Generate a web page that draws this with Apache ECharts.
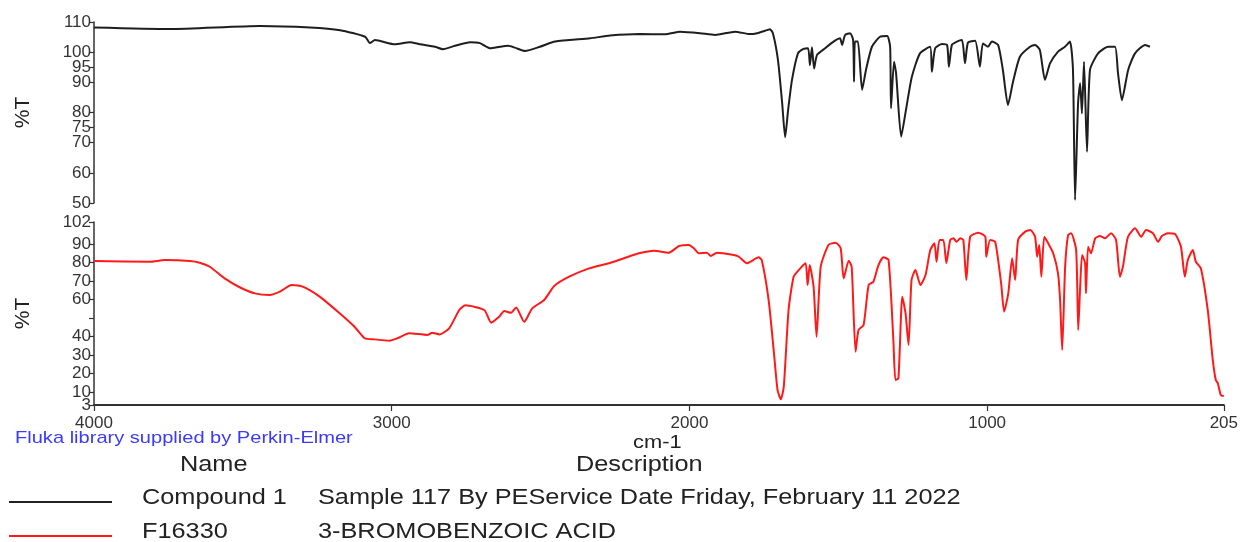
<!DOCTYPE html>
<html>
<head>
<meta charset="utf-8">
<title>IR spectrum compare</title>
<script src="https://cdn.jsdelivr.net/npm/echarts@6.0.0/dist/echarts.min.js"></script>
<style>
  html, body { margin: 0; padding: 0; background: #fff; }
  #chart { width: 1241px; height: 542px; }
</style>
</head>
<body>
<div id="chart"></div>
<script>
// ticks
var xTicks = [4000, 3000, 2000, 1000, 205];
var yTicksTop = [50, 55, 60, 70, 75, 80, 90, 95, 100, 110];
var yTicksBottom = [10, 20, 30, 40, 60, 70, 80, 90, 102];
var yMinorBottom = [3, 10, 20, 30, 40, 50, 60, 70, 80, 90, 102];
var yLowBottom = [3];

// Compound 1 (sample) - wavenumber / %T
var wnSample = [4000,3745,3443,3276,3175,3091,3075,3058,2991,2941,2907,2857,2830,2790,2739,2706,2672,2639,2612,2589,2555,2505,2454,2337,2270,2170,2086,2035,1968,1918,1851,1801,1777,1744,1734,1724,1707,1693,1683,1673,1660,1640,1623,1606,1600,1593,1586,1576,1549,1516,1499,1492,1482,1465,1455,1452,1449,1439,1425,1412,1392,1365,1341,1331,1328,1318,1311,1294,1278,1258,1231,1197,1191,1180,1157,1140,1134,1124,1107,1090,1080,1070,1046,1030,1020,1003,990,969,953,936,919,896,862,845,829,812,795,768,745,728,718,711,701,694,688,681,671,661,634,600,577,567,554,533,510,476,460];
var tSample = [108.2,107.7,108.7,108.2,107.3,105.1,103,104,102.6,103.3,102.6,101.8,101,102.1,103.3,103,101.3,101.8,102.1,101.5,100.4,101.8,103.5,104.6,105.5,106,105.9,106.8,106.3,105.7,106.8,106,106.3,107.3,107.6,106.3,97.4,83.2,71.8,80.8,90.8,99.6,101,101.3,95.7,101.6,94.6,99.1,101.3,103.8,104.6,102.4,105.7,106.3,104,90.2,103.5,103.5,87.5,94.1,101.8,105.1,105.4,101.8,81.4,96.8,93,72,80.8,91.9,99.6,101.8,93.5,101.3,102.7,102.4,95.2,102.4,103.5,104,96.3,103.2,103.8,95.2,102.9,101.8,103.5,102.4,94.1,82.5,90.2,98.5,101.8,102.4,100.7,90.8,96.3,100.2,101.8,103.5,94.1,51,83,89.7,79.7,96.8,67,94.1,99.6,101.8,101.8,93,84.1,94.1,99.6,102.4,101.8];

// F16330 3-bromobenzoic acid (library)
var wnLib = [4000,3812,3762,3678,3645,3611,3561,3511,3460,3410,3376,3336,3299,3242,3175,3125,3091,3058,3008,2981,2941,2880,2864,2840,2807,2773,2753,2689,2666,2639,2622,2599,2582,2555,2528,2488,2454,2404,2337,2270,2220,2170,2119,2069,2035,2002,1985,1968,1942,1928,1908,1851,1834,1807,1767,1757,1734,1717,1704,1693,1683,1667,1650,1633,1610,1603,1596,1583,1573,1559,1533,1509,1492,1482,1465,1455,1442,1432,1415,1398,1382,1365,1348,1331,1315,1308,1298,1285,1274,1264,1254,1241,1224,1207,1191,1177,1170,1160,1147,1137,1124,1113,1103,1090,1080,1070,1057,1030,1006,1003,990,973,953,943,929,916,906,896,872,855,839,832,825,818,808,795,778,762,755,748,738,728,718,701,694,688,681,671,668,661,651,637,621,604,584,567,554,544,527,503,483,466,443,426,413,393,369,349,336,326,309,299,282,259,242,232,225,215,205];
var tLib = [80.9,80.5,81.4,80.9,80,77.8,71.5,66.7,63.4,62.5,64.3,67.9,67,61.6,52.6,45.3,39.1,38.5,37.8,39.1,41.8,40.9,42.1,41.2,44.5,54.4,56.9,54.4,47.5,50.8,53.8,52.9,55.8,48,55.3,59.8,67.4,72.4,76.9,79.7,82.4,85.1,86.5,85.4,89,89.6,87.8,85.1,85.4,83.6,85.4,84.1,83.2,79.7,82.9,81.4,59.8,32.7,11.1,6.1,12.9,54.4,72.4,76,79.7,67.9,78.7,67,39.9,77.8,89.6,90.8,87.8,71.5,81.1,77.8,31.8,43.6,46.3,67.9,69.7,78.7,82.9,81.4,38.1,16.5,17.4,61.6,52.6,35.4,70.6,76,67.9,73.3,86.8,90.5,80.5,92.3,92.3,79.7,92.3,93.2,91.3,93.2,92.3,70.6,94,96.2,94,83.2,92.3,91.3,68.8,53.5,63.4,82.4,70.6,92.3,96.8,97.7,94,83.2,89.6,72.4,94,90.5,85.1,74.2,59.8,32.7,77.8,95,95.9,86.8,43.6,65.2,84.1,79.7,63.4,88.6,85.1,93.2,94.4,93.2,95.9,92.3,72.4,77.8,94,98.6,94,97.7,95.9,91.3,94.4,95.9,95.5,88.6,72.4,81.4,86.8,80.5,76.9,54.4,27.3,16.5,14.7,8.4,7.8];

function pairs(xs, ys){
  var out = [];
  for (var i = 0; i < xs.length; i++) out.push([xs[i], ys[i]]);
  return out;
}

var font = "'Liberation Sans', Arial, sans-serif";
var axisColor = '#333';
var plain = function(v){ return String(v); };

var chart = echarts.init(document.getElementById('chart'), null, {renderer: 'canvas'});

function yAxisFor(idx, min, max, ticks, tickVals){
  return {
    type: 'value', gridIndex: idx, min: min, max: max, position: 'left',
    name: '%T', nameLocation: 'middle', nameGap: 60,
    nameTextStyle: {fontFamily: font, fontSize: 21, color: '#222'},
    splitLine: {show: false},
    axisLine: {show: true, lineStyle: {color: axisColor, width: 1.5}},
    axisTick: {show: true, length: 5, customValues: tickVals, lineStyle: {color: axisColor, width: 1.2}},
    axisLabel: {
      customValues: ticks, formatter: plain, showMinLabel: true, showMaxLabel: true, hideOverlap: false,
      fontFamily: font, fontSize: 17, color: '#333', margin: 3
    }
  };
}

// text blocks under the plot, a bit wide like the print
function label(x, y, txt, size, color, sx){
  return {
    type: 'text', x: x, y: y, scaleX: sx || 1.15,
    style: {text: txt, font: size + 'px ' + font, fill: color || '#222', verticalAlign: 'middle'}
  };
}

var option = {
  animation: false,
  backgroundColor: '#fff',
  grid: [
    {left: 94, right: 15, top: 22, height: 181},
    {left: 94, right: 15, top: 222, height: 183}
  ],
  xAxis: [
    {type: 'value', gridIndex: 0, min: 205, max: 4000, inverse: true, show: false},
    {
      type: 'value', gridIndex: 1, min: 205, max: 4000, inverse: true,
      splitLine: {show: false},
      axisLine: {show: true, lineStyle: {color: axisColor, width: 2}},
      axisTick: {show: true, length: 6, customValues: xTicks, lineStyle: {color: axisColor, width: 1.2}},
      axisLabel: {
        customValues: xTicks, formatter: plain, showMinLabel: true, showMaxLabel: true, hideOverlap: false,
        fontFamily: font, fontSize: 17, color: '#333', margin: 10
      }
    }
  ],
  yAxis: [
    yAxisFor(0, 50, 110, yTicksTop, yTicksTop),
    yAxisFor(1, 3, 102, yTicksBottom, yMinorBottom),
    // the "3" at the foot of the lower axis, kept apart so it isn't dropped next to "10"
    {
      type: 'value', gridIndex: 1, min: 3, max: 102, position: 'left',
      axisLine: {show: false}, axisTick: {show: false}, splitLine: {show: false},
      axisLabel: {customValues: yLowBottom, formatter: plain, fontFamily: font, fontSize: 17, color: '#333', margin: 3}
    }
  ],
  series: [
    {
      name: 'Compound 1', type: 'line', xAxisIndex: 0, yAxisIndex: 0,
      data: pairs(wnSample, tSample), showSymbol: false, smooth: 0.2,
      lineStyle: {color: '#1e1e1e', width: 2}
    },
    {
      name: 'F16330', type: 'line', xAxisIndex: 1, yAxisIndex: 1,
      data: pairs(wnLib, tLib), showSymbol: false, smooth: 0.2,
      lineStyle: {color: '#ff1a1a', width: 2}
    }
  ],
  graphic: [
    label(15, 438, 'Fluka library supplied by Perkin-Elmer', 17, '#3a3aff', 1.18),
    label(633, 443, 'cm-1', 19, '#222'),
    label(180, 465, 'Name', 22),
    label(576, 465, 'Description', 22),
    {type: 'line', shape: {x1: 9, y1: 502, x2: 112, y2: 502}, style: {stroke: '#222', lineWidth: 1.8}},
    label(142, 498, 'Compound 1', 22),
    label(318, 498, 'Sample 117 By PEService Date Friday, February 11 2022', 22),
    {type: 'line', shape: {x1: 9, y1: 536, x2: 112, y2: 536}, style: {stroke: '#ff1a1a', lineWidth: 1.8}},
    label(142, 532, 'F16330', 22),
    label(318, 532, '3-BROMOBENZOIC ACID', 22)
  ]
};

chart.setOption(option);
</script>
</body>
</html>
